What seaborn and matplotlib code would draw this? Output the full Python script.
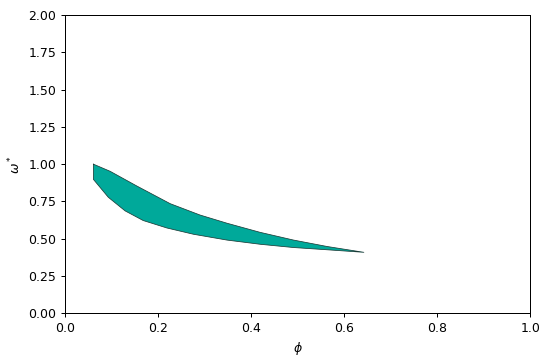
import numpy as np
import pandas as pd
import matplotlib
matplotlib.use("Agg")
import matplotlib.pyplot as plt
import seaborn as sns

# upper and lower boundary of the stable region
phi_upper = [0.061, 0.097, 0.154, 0.226, 0.290, 0.348, 0.419, 0.491, 0.563, 0.642]
omega_upper = [1.000, 0.952, 0.854, 0.735, 0.659, 0.604, 0.543, 0.491, 0.448, 0.409]
phi_lower = [0.061, 0.093, 0.129, 0.168, 0.219, 0.276, 0.348, 0.419, 0.491, 0.563, 0.642]
omega_lower = [0.898, 0.778, 0.687, 0.622, 0.572, 0.530, 0.491, 0.463, 0.441, 0.426, 0.409]

FILL_COLOR = "#00a99a"

fig, ax = plt.subplots(figsize=(6, 4), dpi=90)

# closed outline: upper boundary left->right, lower boundary right->left
outline = pd.DataFrame({
    "phi": phi_upper + phi_lower[::-1] + phi_upper[:1],
    "omega": omega_upper + omega_lower[::-1] + omega_upper[:1],
})
ax.fill(outline["phi"], outline["omega"], color=FILL_COLOR, linewidth=0)
sns.lineplot(data=outline, x="phi", y="omega", sort=False, estimator=None,
             color="#1a3a36", linewidth=0.6, ax=ax)

ax.set_xlim(0, 1)
ax.set_ylim(0, 2)
ax.set_yticks(np.arange(0, 2.01, 0.25))
ax.set_xlabel(r"$\phi$")
ax.set_ylabel(r"$\omega^*$")

fig.subplots_adjust(left=0.1204, right=0.9824, top=0.9583, bottom=0.1297)
plt.savefig("out.png", dpi=90)
